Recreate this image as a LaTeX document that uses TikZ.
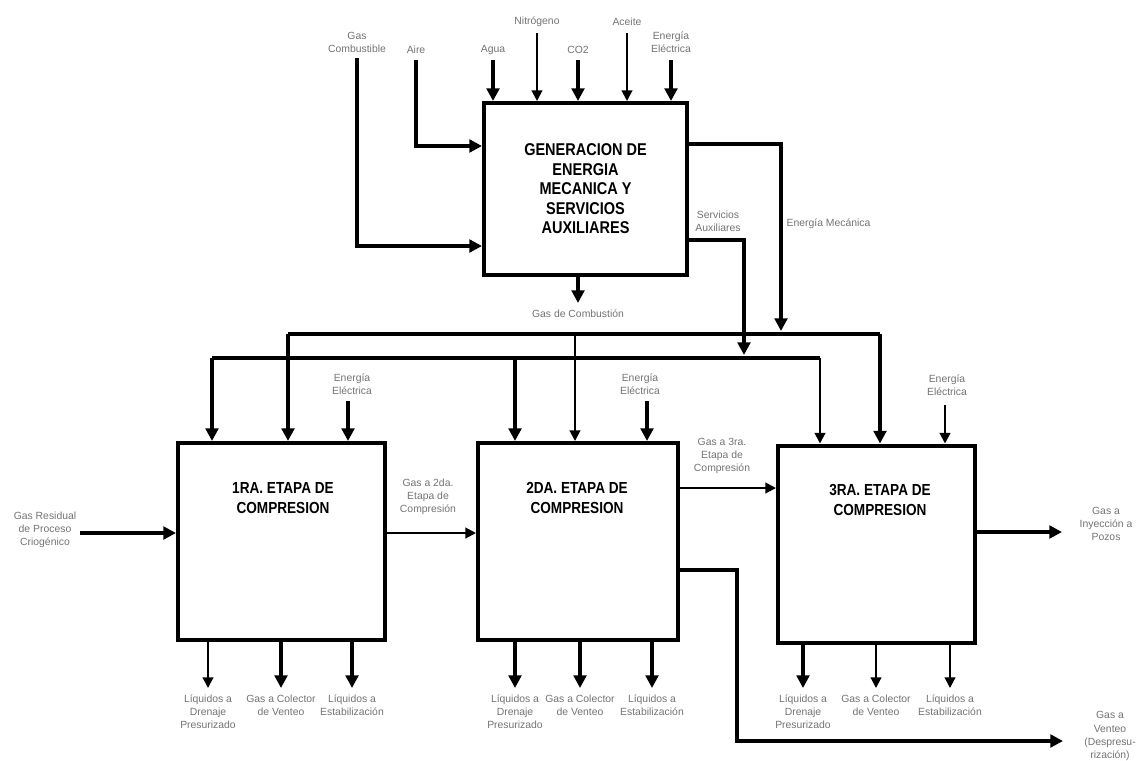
\documentclass[tikz,border=0pt]{standalone}
\usepackage{fontspec}
\setmainfont{Liberation Sans}
\newfontfamily\titlefont[FakeStretch=0.85]{Liberation Sans}
\usetikzlibrary{arrows.meta}
\begin{document}
\begin{tikzpicture}[x=0.75pt,y=-0.75pt,
 box/.style={draw, line width=3pt, inner sep=0pt},
 ttl/.style={font=\titlefont\bfseries\fontsize{12}{14.5}\selectfont, align=center, inner sep=0pt},
 thk/.style={line width=2.8pt, -{Triangle[length=9.5pt,width=9.5pt]}},
 thn/.style={line width=1.5pt, -{Triangle[length=8pt,width=8pt]}},
 bus/.style={line width=2.8pt},
 lbl/.style={font=\fontsize{7.8}{9.8}\selectfont, text=black!55, align=center, inner sep=1pt}]
\useasboundingbox (0,0) rectangle (1141,760);

% boxes
\node[box, minimum width=152.25pt, minimum height=129pt] (gen) at (585.5,189) {};
\node[ttl, font=\titlefont\bfseries\fontsize{12.8}{14.6}\selectfont] (tgen) at (gen.center) {GENERACION DE\\ENERGIA\\MECANICA Y\\SERVICIOS\\AUXILIARES};
\node[box, minimum width=155.25pt, minimum height=147.75pt] (b1) at (281.5,541.5) {};
\node[box, minimum width=150pt, minimum height=147.75pt] (b2) at (578,541.5) {};
\node[box, minimum width=147.75pt, minimum height=147.75pt] (b3) at (876.5,544) {};
\node[ttl] (t1) at (283,498) {1RA. ETAPA DE\\COMPRESION};
\node[ttl] (t2) at (577,498) {2DA. ETAPA DE\\COMPRESION};
\node[ttl] (t3) at (880,500) {3RA. ETAPA DE\\COMPRESION};

% top inputs
\coordinate (gc) at (357,58);
\coordinate (ai) at (416,60);
\coordinate (ag) at (493,60);
\coordinate (ni) at (537,33);
\coordinate (co) at (578,60);
\coordinate (ac) at (627,33);
\coordinate (ee) at (671,60);
\draw[thk] (gc) |- (gen.west |- 0,246);
\draw[thk] (ai) |- (gen.west |- 0,146);
\draw[thk] (ag) -- (gen.north -| ag);
\draw[thn] (ni) -- (gen.north -| ni);
\draw[thk] (co) -- (gen.north -| co);
\draw[thn] (ac) -- (gen.north -| ac);
\draw[thk] (ee) -- (gen.north -| ee);
\node[lbl] (lgc) at (357,42) {Gas\\Combustible};
\node[lbl] (lai) at (416,50) {Aire};
\node[lbl] (lag) at (493,50) {Agua};
\node[lbl] (lni) at (537,22) {Nitrógeno};
\node[lbl] (lco) at (578,50) {CO2};
\node[lbl] (lac) at (627,22) {Aceite};
\node[lbl] (lee) at (671,42) {Energía\\Eléctrica};

% outputs of generation
\coordinate (em) at (781,331);
\coordinate (sa) at (744,355);
\coordinate (gcomb) at (578,303);
\draw[thk] (gen.east |- 0,144) -| (em);
\draw[thk] (gen.east |- 0,240) -| (sa);
\draw[thk] (gen.south -| gcomb) -- (gcomb);
\node[lbl] (lsa) at (718,221) {Servicios\\Auxiliares};
\node[lbl, anchor=west] (lem) at (785,224) {Energía Mecánica};
\node[lbl] (lgcomb) at (578,314) {Gas de Combustión};

% buses
\coordinate (m1) at (288,334);
\coordinate (m2) at (575,334);
\coordinate (m3) at (880,334);
\coordinate (s1) at (212,358);
\coordinate (s2) at (515,358);
\coordinate (s3) at (820,358);
\draw[bus] (m1) -- (m3);
\draw[bus] (s1) -- (s3);
\draw[thk] (s1) -- (b1.north -| s1);
\draw[thk] (m1) -- (b1.north -| m1);
\draw[thk] (s2) -- (b2.north -| s2);
\draw[thn] (m2) -- (b2.north -| m2);
\draw[thn] (s3) -- (b3.north -| s3);
\draw[thk] (m3) -- (b3.north -| m3);

% electric energy to stages
\coordinate (e1) at (348,401);
\coordinate (e2) at (647,401);
\coordinate (e3) at (945,405);
\draw[thk] (e1) -- (b1.north -| e1);
\draw[thk] (e2) -- (b2.north -| e2);
\draw[thn] (e3) -- (b3.north -| e3);
\node[lbl] (le1) at (352,384) {Energía\\Eléctrica};
\node[lbl] (le2) at (640,384) {Energía\\Eléctrica};
\node[lbl] (le3) at (947,385) {Energía\\Eléctrica};

% main gas path
\coordinate (gr) at (80,533);
\coordinate (iny) at (1062,532);
\coordinate (vc) at (737,741);
\coordinate (vt) at (1063,741);
\draw[thk] (gr) -- (b1.west |- gr);
\draw[thn] (b1.east |- 0,533) -- (b2.west |- 0,533);
\draw[thn] (b2.east |- 0,488) -- (b3.west |- 0,488);
\draw[thk] (b3.east |- iny) -- (iny);
\draw[thk] (b2.east |- 0,570) -| (vc) -- (vt);
\node[lbl] (lgr) at (45,530) {Gas Residual\\de Proceso\\Criogénico};
\node[lbl] (l12) at (428,497) {Gas a 2da.\\Etapa de\\Compresión};
\node[lbl] (l23) at (722,456) {Gas a 3ra.\\Etapa de\\Compresión};
\node[lbl] (liny) at (1106,524) {Gas a\\Inyección a\\Pozos};
\node[lbl] (lvt) at (1110,736) {Gas a\\Venteo\\(Despresu-\\rización)};

% bottom outputs
\coordinate (o11) at (208,688);
\coordinate (o12) at (281,688);
\coordinate (o13) at (352,688);
\coordinate (o21) at (515,688);
\coordinate (o22) at (580,688);
\coordinate (o23) at (652,688);
\coordinate (o31) at (803,688);
\coordinate (o32) at (876,688);
\coordinate (o33) at (950,688);
\draw[thn] (b1.south -| o11) -- (o11);
\draw[thk] (b1.south -| o12) -- (o12);
\draw[thk] (b1.south -| o13) -- (o13);
\draw[thk] (b2.south -| o21) -- (o21);
\draw[thk] (b2.south -| o22) -- (o22);
\draw[thk] (b2.south -| o23) -- (o23);
\draw[thk] (b3.south -| o31) -- (o31);
\draw[thn] (b3.south -| o32) -- (o32);
\draw[thn] (b3.south -| o33) -- (o33);
\node[lbl, below=4pt] (l11) at (o11) {Líquidos a\\Drenaje\\Presurizado};
\node[lbl, below=4pt] (l12b) at (o12) {Gas a Colector\\de Venteo};
\node[lbl, below=4pt] (l13) at (o13) {Líquidos a\\Estabilización};
\node[lbl, below=4pt] (l21) at (o21) {Líquidos a\\Drenaje\\Presurizado};
\node[lbl, below=4pt] (l22) at (o22) {Gas a Colector\\de Venteo};
\node[lbl, below=4pt] (l23b) at (o23) {Líquidos a\\Estabilización};
\node[lbl, below=4pt] (l31) at (o31) {Líquidos a\\Drenaje\\Presurizado};
\node[lbl, below=4pt] (l32) at (o32) {Gas a Colector\\de Venteo};
\node[lbl, below=4pt] (l33) at (o33) {Líquidos a\\Estabilización};
\end{tikzpicture}
\end{document}
